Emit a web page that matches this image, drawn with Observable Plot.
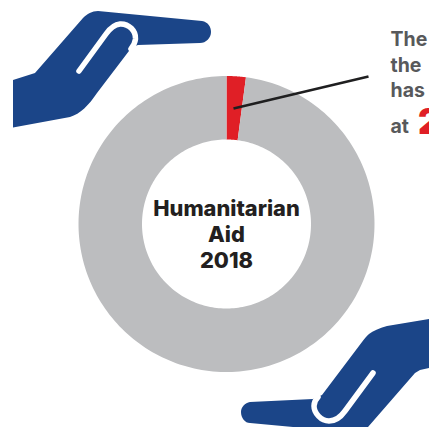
<!DOCTYPE html>
<html>
<head>
<meta charset="utf-8">
<style>
  html, body { margin: 0; padding: 0; background: #fff; overflow: hidden; }
  svg { display: block; }
</style>
<script src="https://cdn.jsdelivr.net/npm/d3@7"></script>
<script src="https://cdn.jsdelivr.net/npm/@observablehq/plot@0.6"></script>
</head>
<body>
<div id="chart"></div>
<script>
// Share of humanitarian aid, in percent, clockwise from twelve o'clock.
const categories = ["Highlighted share", "Remainder"];
const shares = [2.1, 97.9];
const colors = ["#e01f26", "#bcbdbf"];

const centerLines = ["Humanitarian", "Aid", "2018"];
const noteLines = ["The", "the\u2002t", "has"];
const notePrefix = "at";
const noteValue = "2";

// Outline of a ring sector in a unit where the outer radius is 1.
const innerRatio = 84.5 / 148;
function sector(category, from, to) {
  const steps = d3.range(0, 241).map(i => from + (to - from) * i / 240);
  const angle = p => (p / 100) * 2 * Math.PI;
  const outer = steps.map(p => ({category, u: Math.sin(angle(p)), v: Math.cos(angle(p))}));
  const inner = steps.slice().reverse().map(p => ({
    category, u: innerRatio * Math.sin(angle(p)), v: innerRatio * Math.cos(angle(p))
  }));
  return outer.concat(inner);
}
let running = 0;
const ring = categories.flatMap((c, i) => {
  const part = sector(c, running, running + shares[i]);
  running += shares[i];
  return part;
});

// The square frame puts the ring's centre at (226, 223.5) with radius 148.
const width = 429, height = 427;
const radius = 148, cx = 226, cy = 223.5;

// Decorative hands, one above the ring and one below it.
const hands = () => {
  const g = d3.create("svg:g");
  const blue = "#1b4588";
  g.append("path").attr("fill", blue).attr("d",
    "M13 80 L35 73 L83 18 C87 14 92 11 98 11 L202 21 C208 22 211 27 211 32 " +
    "C211 38 206 43 200 43 L138 45 L132 47 L97 93 C89 105 80 114 70 117 L13 127.500 Z");
  g.append("path").attr("fill", "none").attr("stroke", "#fff").attr("stroke-width", 5.5)
    .attr("stroke-linecap", "round")
    .attr("d", "M79 71 L106 34 C111 27 115 24.500 120 24 C129 23.500 136 31 135.500 39 C135 43 134 45 131 49");
  g.append("path").attr("fill", blue).attr("d",
    "M429 319 L387 326 C379 328 373 331 369 334 C366 337 364 339 362 342 L322 395 L313 399 L250 402 " +
    "C245 403 241 407 241 412 C241 418 245 423 250 423 L293 427 L368 427 L415 373 L420 370 L429 368 Z");
  g.append("path").attr("fill", "none").attr("stroke", "#fff").attr("stroke-width", 5.5)
    .attr("stroke-linecap", "round")
    .attr("d", "M373 373 L345 411 C340 418 335 421 329 421 C321 421 314 413 314 406 C314 403 315 400 318 397");
  return g.node();
};

const centerStyle = {fontFamily: "Inter", fontWeight: 800, fontSize: 21.800, fill: "#231f20"};
const noteStyle = {fontFamily: "Inter", fontWeight: 700, fontSize: 19.500, fill: "#58595b", textAnchor: "start"};

const chart = Plot.plot({
  width, height,
  margin: 0,
  x: {axis: null, domain: [-cx / radius, (width - cx) / radius], range: [0, width]},
  y: {axis: null, domain: [(cy - height) / radius, cy / radius], range: [height, 0]},
  marks: [
    hands,
    Plot.line(ring, {
      x: "u", y: "v", z: "category", curve: "linear-closed",
      fill: d => colors[categories.indexOf(d.category)], stroke: null
    }),
    Plot.link([{x1: 7 / 148, y1: 115.500 / 148, x2: 142 / 148, y2: 147.500 / 148}], {
      x1: "x1", y1: "y1", x2: "x2", y2: "y2", stroke: "#1f1f20", strokeWidth: 2.6
    }),
    Plot.text(centerLines, {
      x: 0, y: (d, i) => (14.500 - i * 26) / 148, text: d => d, ...centerStyle
    }),
    Plot.text(noteLines, {
      x: 164 / 148, y: (d, i) => (184.500 - i * 25.800) / 148, text: d => d, ...noteStyle
    }),
    Plot.text([notePrefix], {
      x: 164 / 148, y: 97.500 / 148, text: d => d, ...noteStyle
    }),
    Plot.text([noteValue], {
      x: 191.500 / 148, y: 101.500 / 148, text: d => d, ...noteStyle,
      fontWeight: 900, fontSize: 35, fill: colors[0]
    })
  ]
});
document.getElementById("chart").append(chart);
</script>
</body>
</html>
